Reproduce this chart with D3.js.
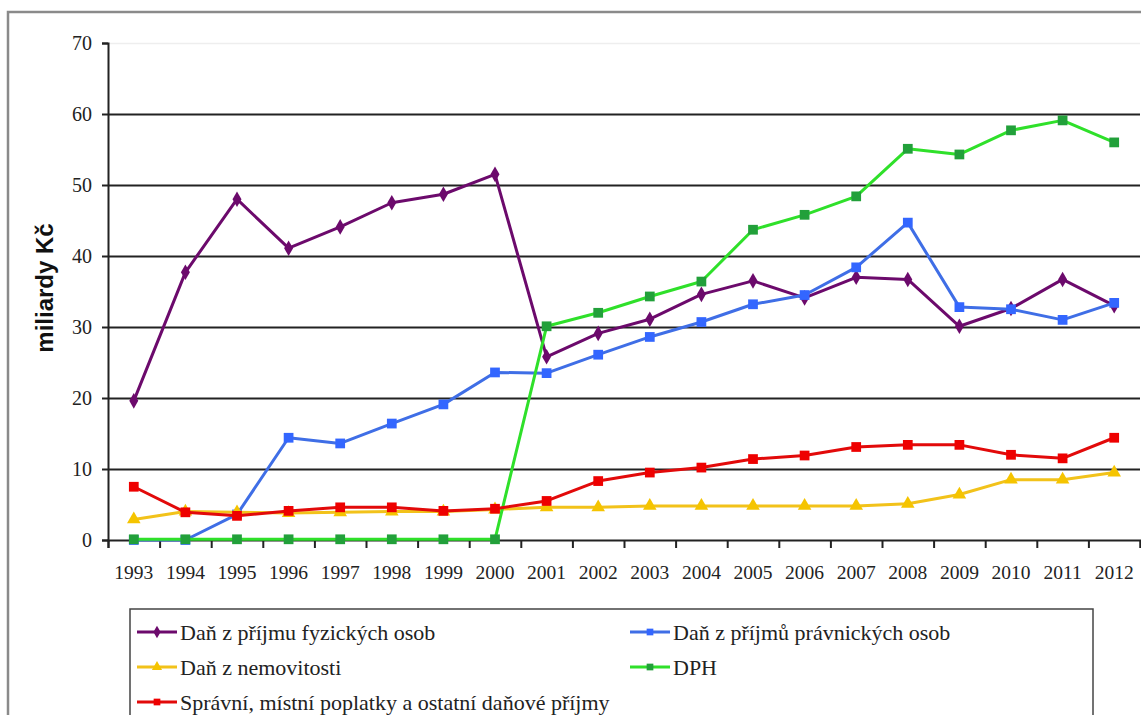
<!DOCTYPE html>
<html>
<head>
<meta charset="utf-8">
<script src="https://cdn.jsdelivr.net/npm/d3@7"></script>
<style>
  html, body { margin: 0; padding: 0; background: #fff; }
  svg { display: block; }
</style>
</head>
<body>
<div id="chart"></div>
<script>
// Years on the x axis
const years = ['1993','1994','1995','1996','1997','1998','1999','2000','2001','2002',
               '2003','2004','2005','2006','2007','2008','2009','2010','2011','2012'];

// Series values (miliardy Kč)
const fyzickychOsob = [19.6, 37.7, 48.0, 41.1, 44.1, 47.5, 48.7, 51.5, 25.8, 29.1,
                       31.1, 34.6, 36.5, 34.1, 37.0, 36.7, 30.1, 32.6, 36.7, 33.0];
const pravnickychOsob = [0, 0, 3.6, 14.4, 13.6, 16.4, 19.1, 23.6, 23.5, 26.1,
                         28.6, 30.7, 33.2, 34.5, 38.4, 44.7, 32.8, 32.5, 31.0, 33.4];
const nemovitosti = [2.9, 4.0, 3.9, 3.8, 3.9, 4.0, 4.0, 4.3, 4.6, 4.6,
                     4.8, 4.8, 4.8, 4.8, 4.8, 5.1, 6.4, 8.5, 8.5, 9.5];
const dph = [0.1, 0.1, 0.1, 0.1, 0.1, 0.1, 0.1, 0.1, 30.1, 32.0,
             34.3, 36.4, 43.7, 45.8, 48.4, 55.1, 54.3, 57.7, 59.1, 56.0];
const spravni = [7.5, 3.9, 3.4, 4.1, 4.6, 4.6, 4.1, 4.4, 5.5, 8.3,
                 9.5, 10.2, 11.4, 11.9, 13.1, 13.4, 13.4, 12.0, 11.5, 14.4];

const yTicks = [0, 10, 20, 30, 40, 50, 60, 70];

const series = [
  { name: 'Daň z příjmu fyzických osob', values: fyzickychOsob, line: '#6c0a6c', mark: '#6c0a6c', shape: 'diamond' },
  { name: 'Daň z příjmů právnických osob', values: pravnickychOsob, line: '#3f6ee6', mark: '#3366ff', shape: 'square' },
  { name: 'Daň z nemovitosti', values: nemovitosti, line: '#f2c21a', mark: '#f5c400', shape: 'triangle' },
  { name: 'DPH', values: dph, line: '#2fe02a', mark: '#22a03a', shape: 'square' },
  { name: 'Správní, místní poplatky a ostatní daňové příjmy', values: spravni, line: '#e20a0a', mark: '#ee0000', shape: 'square' }
];

const serif = '"Liberation Serif", "Times New Roman", serif';

const width = 1141, height = 715;
const margin = { top: 43, left: 108 };
const plotW = 1140 - margin.left;
const plotH = 540 - margin.top;

const svg = d3.select('#chart').append('svg')
  .attr('width', width)
  .attr('height', height);

// outer frame
svg.append('rect')
  .attr('x', 8).attr('y', 12)
  .attr('width', 1200).attr('height', 800)
  .attr('fill', '#fff')
  .attr('stroke', '#8a8a8a')
  .attr('stroke-width', 2.5);

const g = svg.append('g')
  .attr('transform', `translate(${margin.left},${margin.top})`);

const x = d3.scaleBand().domain(years).range([0, plotW]).padding(0);
const xi = d3.scaleLinear().domain([0, years.length]).range([0, plotW]);
const y = d3.scaleLinear().domain([0, 70]).range([plotH, 0]);

// gridlines
const grid = g.append('g')
  .call(d3.axisLeft(y).tickValues(yTicks.filter(d => d > 0)).tickSize(-plotW).tickFormat(''));
grid.select('.domain').remove();
grid.selectAll('.tick line')
  .attr('stroke', d => d === 70 ? '#eeeeee' : '#222')
  .attr('stroke-width', d => d === 70 ? 1.5 : 2);

// y axis
const yAxis = g.append('g')
  .call(d3.axisLeft(y).tickValues(yTicks).tickSize(6).tickPadding(10));
yAxis.select('.domain').attr('stroke', '#222').attr('stroke-width', 2);
yAxis.selectAll('.tick line').attr('stroke', '#222').attr('stroke-width', 2);
yAxis.selectAll('.tick text')
  .style('font-family', serif)
  .style('font-size', '20px')
  .attr('fill', '#222');

// x axis tick marks at category boundaries
const xMarks = g.append('g')
  .attr('transform', `translate(0,${plotH})`)
  .call(d3.axisBottom(xi).tickValues(d3.range(years.length + 1)).tickSize(8).tickFormat(''));
xMarks.select('.domain').attr('stroke', '#222').attr('stroke-width', 2);
xMarks.selectAll('.tick line').attr('stroke', '#222').attr('stroke-width', 2);

// x axis labels
const xLabels = g.append('g')
  .attr('transform', `translate(0,${plotH})`)
  .call(d3.axisBottom(x).tickSize(0).tickPadding(25));
xLabels.select('.domain').remove();
xLabels.selectAll('.tick text')
  .style('font-family', serif)
  .style('font-size', '19.5px')
  .attr('fill', '#222');

// y axis title
svg.append('text')
  .attr('transform', `translate(53,288) rotate(-90)`)
  .attr('text-anchor', 'middle')
  .style('font-family', '"Liberation Sans", Arial, sans-serif')
  .style('font-size', '24px')
  .style('font-weight', 'bold')
  .attr('fill', '#111')
  .text('miliardy Kč');

const cx = i => x(years[i]) + x.bandwidth() / 2;

function symbolFor(shape, size) {
  const type = shape === 'diamond' ? d3.symbolDiamond
    : shape === 'triangle' ? d3.symbolTriangle : d3.symbolSquare;
  return d3.symbol().type(type).size(size)();
}

const line = d3.line()
  .x((d, i) => cx(i))
  .y(d => y(d));

series.forEach(s => {
  g.append('path')
    .datum(s.values)
    .attr('fill', 'none')
    .attr('stroke', s.line)
    .attr('stroke-width', 3)
    .attr('stroke-linejoin', 'round')
    .attr('d', line);

  g.selectAll(null)
    .data(s.values)
    .enter()
    .append('path')
    .attr('transform', (d, i) => `translate(${cx(i)},${y(d)})`)
    .attr('d', symbolFor(s.shape, s.shape === 'diamond' ? 70 : s.shape === 'triangle' ? 80 : 95))
    .attr('fill', s.mark);
});

// legend
const legend = svg.append('g');
legend.append('rect')
  .attr('x', 130).attr('y', 609)
  .attr('width', 963).attr('height', 200)
  .attr('fill', '#fff')
  .attr('stroke', '#444')
  .attr('stroke-width', 1.5);

const legendPos = [
  { x: 137, y: 632 }, { x: 630, y: 632 },
  { x: 137, y: 667 }, { x: 630, y: 667 },
  { x: 137, y: 702 }
];

series.forEach((s, i) => {
  const p = legendPos[i];
  const item = legend.append('g').attr('transform', `translate(${p.x},${p.y})`);
  item.append('line')
    .attr('x1', 0).attr('x2', 40)
    .attr('stroke', s.line)
    .attr('stroke-width', 3);
  item.append('path')
    .attr('transform', 'translate(20,0)')
    .attr('d', symbolFor(s.shape, 45))
    .attr('fill', s.mark);
  item.append('text')
    .attr('x', 43)
    .attr('dy', '0.35em')
    .style('font-family', serif)
    .style('font-size', '22px')
    .attr('fill', '#222')
    .text(s.name);
});
</script>
</body>
</html>
